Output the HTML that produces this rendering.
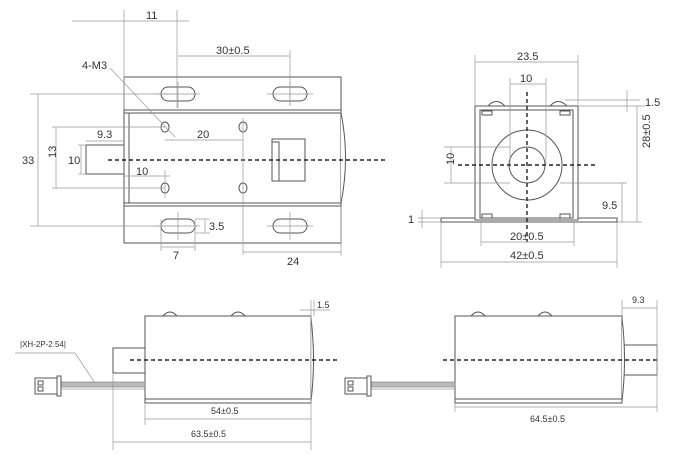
<!DOCTYPE html>
<html><head><meta charset="utf-8"><style>
html,body{margin:0;padding:0;background:#fff}
svg{display:block}
text{font-family:"Liberation Sans",sans-serif;font-size:11px;fill:#333}
.t{stroke:#999;stroke-width:.7;fill:none}
.b{stroke:#555;stroke-width:1;fill:#fff}
.d{stroke:#222;stroke-width:1.4;stroke-dasharray:4 3;fill:none}
</style></head><body>
<svg width="683" height="457" viewBox="0 0 683 457" xmlns="http://www.w3.org/2000/svg">
<!-- TOP VIEW -->
<rect class="b" x="124" y="77" width="217" height="166"/>
<rect class="b" x="124" y="110" width="217" height="96"/>
<line class="b" x1="124" y1="113" x2="341" y2="113"/>
<line class="b" x1="124" y1="203" x2="341" y2="203"/>
<line class="b" x1="129" y1="113" x2="129" y2="203"/>
<path class="b" d="M341 113 Q350 158 341 203" fill="none"/>
<rect class="b" x="86" y="145" width="38" height="29"/>
<rect class="b" x="161" y="87" width="34" height="14" rx="7"/>
<rect class="b" x="273" y="87" width="34" height="14" rx="7"/>
<rect class="b" x="161" y="219" width="34" height="14" rx="7"/>
<rect class="b" x="273" y="219" width="34" height="14" rx="7"/>
<g class="t">
<line x1="155" y1="94" x2="200" y2="94"/><line x1="267" y1="94" x2="313" y2="94"/>
<line x1="155" y1="226" x2="200" y2="226"/><line x1="267" y1="226" x2="313" y2="226"/>
<line x1="178" y1="82" x2="178" y2="108"/><line x1="290" y1="82" x2="290" y2="106"/>
<line x1="178" y1="212" x2="178" y2="240"/><line x1="290" y1="212" x2="290" y2="240"/>
</g>
<ellipse class="b" cx="165" cy="127" rx="4" ry="5"/>
<ellipse class="b" cx="243" cy="127" rx="4" ry="5"/>
<ellipse class="b" cx="165" cy="188" rx="4" ry="5"/>
<ellipse class="b" cx="243" cy="188" rx="4" ry="5"/>
<rect class="b" x="272" y="139" width="33" height="42"/>
<rect class="b" x="272" y="142" width="7" height="39"/>
<line class="d" x1="108" y1="160" x2="385" y2="160"/>
<g class="t">
<line x1="124" y1="10" x2="124" y2="110"/><line x1="177" y1="10" x2="177" y2="108"/>
<line x1="72" y1="21" x2="189" y2="21"/>
<line x1="178" y1="56" x2="290" y2="56"/><line x1="290" y1="50" x2="290" y2="105"/>
<line x1="30" y1="94" x2="178" y2="94"/><line x1="30" y1="226" x2="178" y2="226"/>
<line x1="38" y1="94" x2="38" y2="226"/>
<line x1="52" y1="127" x2="165" y2="127"/><line x1="52" y1="188" x2="165" y2="188"/>
<line x1="56" y1="127" x2="56" y2="188"/>
<line x1="86" y1="141" x2="124" y2="141"/>
<line x1="81" y1="145" x2="81" y2="174"/><line x1="78" y1="145" x2="86" y2="145"/><line x1="78" y1="174" x2="86" y2="174"/>
<line x1="124" y1="176" x2="170" y2="176"/><line x1="165" y1="170" x2="165" y2="198"/>
<line x1="165" y1="140" x2="243" y2="140"/><line x1="243" y1="118" x2="243" y2="255"/>
<line x1="110" y1="68" x2="175" y2="137"/>
<line x1="195" y1="219" x2="210" y2="219"/><line x1="195" y1="233" x2="210" y2="233"/><line x1="205" y1="219" x2="205" y2="233"/>
<line x1="161" y1="219" x2="161" y2="251"/><line x1="195" y1="219" x2="195" y2="251"/><line x1="161" y1="247" x2="195" y2="247"/>
<line x1="341" y1="206" x2="341" y2="256"/><line x1="243" y1="252" x2="341" y2="252"/>
</g>
<text x="146" y="19">11</text>
<text x="216" y="54">30±0.5</text>
<text x="82" y="69">4-M3</text>
<text x="22" y="164">33</text>
<text x="52" y="162" transform="rotate(-90 52 158)">13</text>
<text x="97" y="138">9.3</text>
<text x="68" y="164">10</text>
<text x="136" y="175">10</text>
<text x="197" y="138">20</text>
<text x="209" y="230">3.5</text>
<text x="173" y="259">7</text>
<text x="287" y="265">24</text>
<!-- END VIEW -->
<rect class="b" x="441" y="218" width="176" height="4"/>
<rect class="b" x="475" y="106" width="103" height="114"/>
<rect class="b" x="480" y="110" width="93" height="108"/>
<path class="b" d="M488 106 Q496 97 505 106 Z"/><path class="b" d="M550 106 Q558 97 567 106 Z"/>
<rect class="b" x="482" y="111" width="10" height="4"/><rect class="b" x="560" y="111" width="10" height="4"/>
<rect class="b" x="482" y="214" width="10" height="4"/><rect class="b" x="560" y="214" width="10" height="4"/>
<circle class="b" cx="527" cy="165" r="35"/>
<circle class="b" cx="527" cy="165" r="18"/>
<line class="d" x1="527" y1="92" x2="527" y2="242"/>
<line class="d" x1="458" y1="165" x2="598" y2="165"/>
<g class="t">
<line x1="475" y1="55" x2="475" y2="106"/><line x1="578" y1="55" x2="578" y2="106"/><line x1="475" y1="62" x2="578" y2="62"/>
<line x1="510" y1="78" x2="510" y2="165"/><line x1="546" y1="78" x2="546" y2="165"/><line x1="510" y1="84" x2="546" y2="84"/>
<line x1="565" y1="100" x2="640" y2="100"/><line x1="578" y1="106" x2="645" y2="106"/><line x1="627" y1="90" x2="627" y2="112"/>
<line x1="637" y1="106" x2="637" y2="222"/><line x1="617" y1="222" x2="642" y2="222"/>
<line x1="560" y1="183" x2="627" y2="183"/><line x1="622" y1="183" x2="622" y2="222"/>
<line x1="444" y1="147" x2="510" y2="147"/><line x1="444" y1="183" x2="510" y2="183"/><line x1="451" y1="147" x2="451" y2="183"/>
<line x1="418" y1="218" x2="441" y2="218"/><line x1="418" y1="222" x2="441" y2="222"/><line x1="422" y1="210" x2="422" y2="228"/>
<line x1="481" y1="222" x2="481" y2="246"/><line x1="574" y1="222" x2="574" y2="246"/><line x1="481" y1="242" x2="574" y2="242"/>
<line x1="441" y1="222" x2="441" y2="268"/><line x1="617" y1="222" x2="617" y2="268"/><line x1="441" y1="262" x2="617" y2="262"/>
</g>
<text x="517" y="60">23.5</text>
<text x="520" y="82">10</text>
<text x="645" y="106">1.5</text>
<text x="632" y="166" transform="rotate(-90 632 148)">28±0.5</text>
<text x="602" y="209">9.5</text>
<text x="450" y="169" transform="rotate(-90 450 165)">10</text>
<text x="408" y="223">1</text>
<text x="510" y="240">20±0.5</text>
<text x="510" y="259">42±0.5</text>
<!-- SIDE VIEW LEFT -->
<path class="b" d="M163 316 Q170 308 177 316 Z"/><path class="b" d="M231 316 Q238 308 245 316 Z"/>
<rect class="b" x="145" y="316" width="166" height="87"/>
<line class="b" x1="145" y1="399" x2="311" y2="399"/>
<path class="b" d="M311 318 Q316 360 311 401" fill="none"/>
<rect class="b" x="113" y="348" width="32" height="25"/>
<line class="d" x1="130" y1="360" x2="340" y2="360"/>
<rect x="60" y="382" width="85" height="5" fill="#bbb" stroke="#777" stroke-width=".6"/>
<line x1="60" y1="389" x2="145" y2="389" stroke="#999" stroke-width=".7"/>
<rect class="b" x="35" y="378" width="22" height="16"/><rect class="b" x="57" y="376" width="4" height="20"/>
<rect class="b" x="38" y="381" width="5" height="4"/><rect class="b" x="38" y="387" width="5" height="4"/>
<g class="t">
<line x1="15" y1="353" x2="75" y2="353"/><line x1="75" y1="353" x2="95" y2="383"/>
<line x1="311" y1="300" x2="311" y2="450"/><line x1="314" y1="300" x2="314" y2="316"/><line x1="300" y1="310" x2="330" y2="310"/>
<line x1="145" y1="403" x2="145" y2="425"/><line x1="145" y1="419" x2="311" y2="419"/>
<line x1="113" y1="373" x2="113" y2="450"/><line x1="113" y1="442" x2="311" y2="442"/>
</g>
<text x="20" y="347" style="font-size:8px">|XH-2P-2.54|</text>
<text x="317" y="308" style="font-size:9px">1.5</text>
<text x="211" y="414" style="font-size:9px">54±0.5</text>
<text x="191" y="437" style="font-size:9px">63.5±0.5</text>
<!-- SIDE VIEW RIGHT -->
<path class="b" d="M471 316 Q478 308 485 316 Z"/><path class="b" d="M538 316 Q545 308 552 316 Z"/>
<rect class="b" x="455" y="316" width="167" height="87"/>
<line class="b" x1="455" y1="399" x2="622" y2="399"/>
<rect class="b" x="622" y="345" width="35" height="30"/>
<path class="b" d="M622 318 Q627 360 622 401" fill="none"/>
<line class="d" x1="443" y1="360" x2="657" y2="360"/>
<rect x="370" y="382" width="85" height="5" fill="#bbb" stroke="#777" stroke-width=".6"/>
<line x1="370" y1="389" x2="455" y2="389" stroke="#999" stroke-width=".7"/>
<rect class="b" x="345" y="378" width="22" height="16"/><rect class="b" x="367" y="376" width="4" height="20"/>
<rect class="b" x="348" y="381" width="5" height="4"/><rect class="b" x="348" y="387" width="5" height="4"/>
<g class="t">
<line x1="622" y1="300" x2="622" y2="316"/><line x1="657" y1="300" x2="657" y2="412"/><line x1="622" y1="308" x2="657" y2="308"/>
<line x1="455" y1="403" x2="455" y2="412"/><line x1="455" y1="407" x2="657" y2="407"/>
</g>
<text x="632" y="303" style="font-size:9px">9.3</text>
<text x="530" y="422" style="font-size:9px">64.5±0.5</text>
</svg>
</body></html>
